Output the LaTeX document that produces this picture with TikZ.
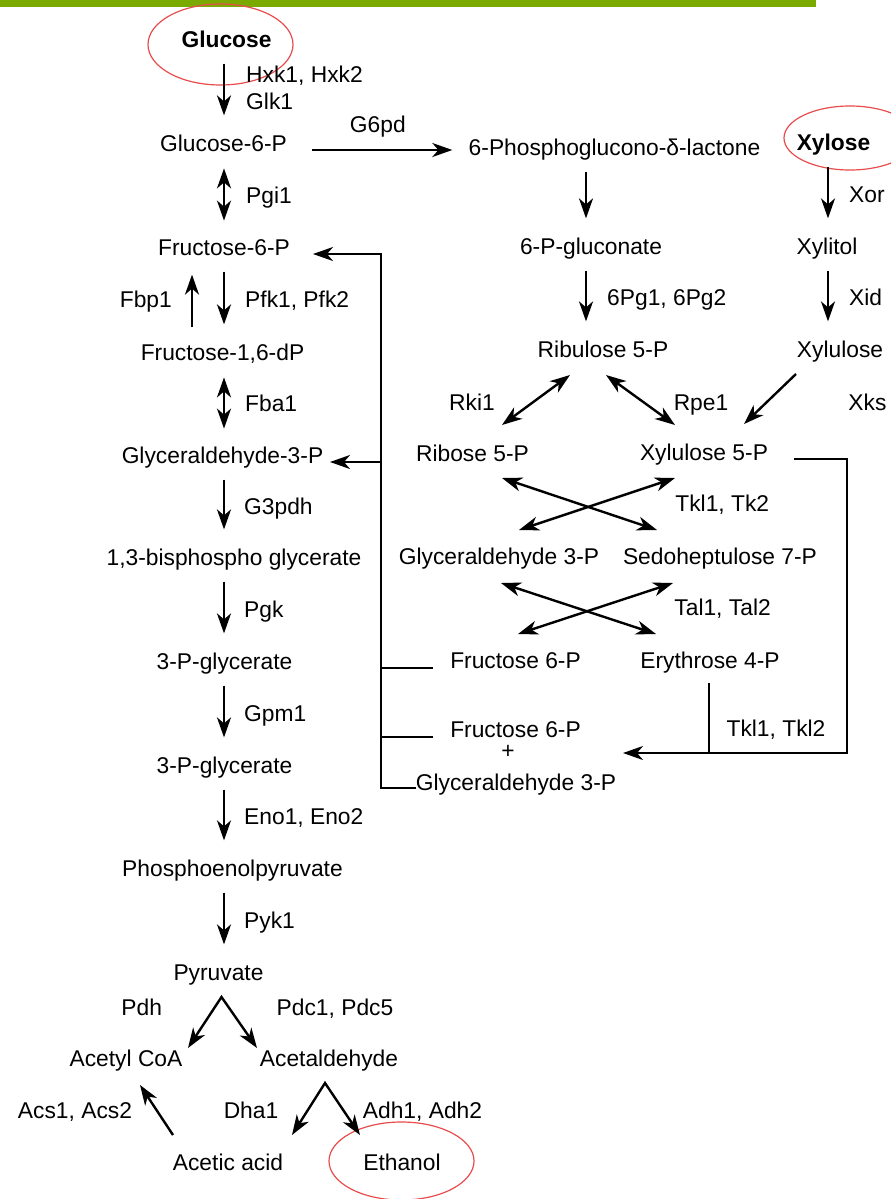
\documentclass[tikz,border=0pt]{standalone}
\usepackage{fontspec}
\setmainfont{Liberation Sans}
\usetikzlibrary{arrows.meta}
\definecolor{barGreen}{RGB}{122,170,0}
\definecolor{ringRed}{RGB}{232,76,76}
\tikzset{
  >={Stealth[length=10pt,width=7pt,inset=3pt]},
  met/.style={font=\fontsize{11.4}{13}\selectfont, inner sep=0pt, text height=8.2pt, text depth=0pt},
  enz/.style={met},
  conv/.style={->, line width=1.2pt, shorten <=8pt, shorten >=9.5pt},
  rev/.style={<->, line width=1.2pt, shorten <=8.4pt, shorten >=8.9pt},
  diag/.style={->, line width=1.2pt},
  diagb/.style={<->, line width=1.2pt},
  link/.style={line width=0.9pt},
  linkarr/.style={->, line width=0.9pt},
  ring/.style={draw=ringRed, line width=0.6pt}
}

\begin{document}
\begin{tikzpicture}[x=0.5pt,y=-0.5pt]
\useasboundingbox (0,0) rectangle (891,1199);
\clip (0,0) rectangle (891,1199);
\fill[barGreen] (0,0) rectangle (816,7);

% columns of the straight arrows
\coordinate (colA) at (224,0);
\coordinate (colB) at (586,0);
\coordinate (colC) at (828,0);
\coordinate (fbpx) at (192,0);

% glycolysis
\node[met] (glc) at (226.5,39) {\textbf{Glucose}};
\node[met] (g6p) at (223.5,143) {Glucose-6-P};
\node[met] (f6p) at (224,247) {Fructose-6-P};
\node[met] (fbp) at (222.5,352) {Fructose-1,6-dP};
\node[met] (gap) at (222.5,455) {Glyceraldehyde-3-P};
\node[met] (bpg) at (234,557) {1,3-bisphospho glycerate};
\node[met] (pga) at (224.5,661) {3-P-glycerate};
\node[met] (pgb) at (224.5,765) {3-P-glycerate};
\node[met] (pep) at (232.5,868) {Phosphoenolpyruvate};
\node[met] (pyr) at (218.5,972) {Pyruvate};
\node[met] (acoa) at (126,1058) {Acetyl CoA};
\node[met] (acal) at (329,1058) {Acetaldehyde};
\node[met] (acet) at (228,1162) {Acetic acid};
\node[met] (etoh) at (402,1162) {Ethanol};

% pentose phosphate and xylose
\node[met] (pgl) at (614.5,147) {6-Phosphoglucono-δ-lactone};
\node[met] (pgn) at (591,246) {6-P-gluconate};
\node[met] (ru5p) at (603,349) {Ribulose 5-P};
\node[met] (xyl) at (833.5,142) {\textbf{Xylose}};
\node[met] (xol) at (827,246) {Xylitol};
\node[met] (xlu) at (840,349) {Xylulose};
\node[met] (r5p) at (472.5,453) {Ribose 5-P};
\node[met] (x5p) at (704,452) {Xylulose 5-P};
\node[met] (ga3) at (499,556) {Glyceraldehyde 3-P};
\node[met] (s7p) at (720,556) {Sedoheptulose 7-P};
\node[met] (f6a) at (515.5,660) {Fructose 6-P};
\node[met] (e4p) at (710,660) {Erythrose 4-P};
\node[met] (f6b) at (515.5,729) {Fructose 6-P};
\node[met] (plus) at (508,750) {+};
\node[met] (ga3b) at (516,782) {Glyceraldehyde 3-P};

% red rings
\draw[ring] ([shift={(-6,5.5)}]glc.center) ellipse [x radius=36.25pt, y radius=20.25pt];
\draw[ring] ([shift={(16.5,-4)}]xyl.center) ellipse [x radius=33pt, y radius=16pt];
\draw[ring] ([shift={(-0.5,-1)}]etoh.center) ellipse [x radius=36.25pt, y radius=19.5pt];

% glycolysis arrows
\draw[conv] (glc.south -| colA) -- (g6p.north -| colA)
  node[enz,midway,right=10.5pt,yshift=8.25pt] (l-hxk) {Hxk1, Hxk2}
  node[enz,midway,right=10.5pt,yshift=-5.25pt] (l-glk) {Glk1};
\draw[rev] (g6p.south -| colA) -- (f6p.north -| colA) node[enz,midway,right=10.5pt] (l-pgi) {Pgi1};
\draw[conv] (f6p.south -| colA) -- (fbp.north -| colA) node[enz,midway,right=10pt] (l-pfk) {Pfk1, Pfk2};
\draw[conv] (fbp.north -| fbpx) -- (f6p.south -| fbpx) node[enz,midway,left=9.5pt] (l-fbp) {Fbp1};
\draw[rev] (fbp.south -| colA) -- (gap.north -| colA) node[enz,midway,right=10pt] (l-fba) {Fba1};
\draw[conv] (gap.south -| colA) -- (bpg.north -| colA) node[enz,midway,right=9.5pt] (l-g3p) {G3pdh};
\draw[conv] (bpg.south -| colA) -- (pga.north -| colA) node[enz,midway,right=9.5pt] (l-pgk) {Pgk};
\draw[conv] (pga.south -| colA) -- (pgb.north -| colA) node[enz,midway,right=9.5pt] (l-gpm) {Gpm1};
\draw[conv] (pgb.south -| colA) -- (pep.north -| colA) node[enz,midway,right=9.5pt] (l-eno) {Eno1, Eno2};
\draw[conv] (pep.south -| colA) -- (pyr.north -| colA) node[enz,midway,right=9.5pt] (l-pyk) {Pyk1};

% pyruvate branches
\draw[diagb] ([shift={(62,-10)}]acoa.center) -- ([shift={(3,25)}]pyr.center) -- ([shift={(-72,-10)}]acal.center);
\draw[diagb] ([shift={(64,-27)}]acet.center) -- ([shift={(-4,25)}]acal.center) -- ([shift={(-42,-27)}]etoh.center);
\draw[diag] ([shift={(-55,-27)}]acet.center) -- ([shift={(14,27)}]acoa.center);
\node[enz] (l-pdh) at (141.7,1007) {Pdh};
\node[enz] (l-pdc) at (335,1007) {Pdc1, Pdc5};
\node[enz] (l-acs) at (75,1110) {Acs1, Acs2};
\node[enz] (l-dha) at (251,1110) {Dha1};
\node[enz] (l-adh) at (422.5,1110) {Adh1, Adh2};

% oxidative branch
\coordinate (g6pout) at ([yshift=-3.5pt]g6p.east);
\draw[diag, shorten <=12.5pt, shorten >=8pt] (g6pout) -- (g6pout -| pgl.west)
  node[enz,midway,above=8pt] (l-g6pd) {G6pd};
\draw[conv] (pgl.south -| colB) -- (pgn.north -| colB);
\draw[conv] (pgn.south -| colB) -- (ru5p.north -| colB) node[enz,midway,right=10pt] (l-6pg) {6Pg1, 6Pg2};

% xylose
\draw[conv] (xyl.south -| colC) -- (xol.north -| colC) node[enz,midway,right=10pt] (l-xor) {Xor};
\draw[conv] (xol.south -| colC) -- (xlu.north -| colC) node[enz,midway,right=10pt] (l-xid) {Xid};
\draw[diag] ([shift={(-44,25)}]xlu.center) -- ([shift={(40,-28)}]x5p.center);
\node[enz, anchor=west] (l-xks) at (848,402) {Xks};

% non-oxidative branch
\draw[diagb] ([shift={(-33,26)}]ru5p.center) -- ([shift={(29.5,-28)}]r5p.center);
\draw[diagb] ([shift={(3,26)}]ru5p.center) -- ([shift={(-29,-27)}]x5p.center);
\node[enz] (l-rki) at (472,402) {Rki1};
\node[enz] (l-rpe) at (701,402) {Rpe1};
\draw[diagb] ([shift={(29.5,25)}]r5p.center) -- ([shift={(-63,-26)}]s7p.center);
\draw[diagb] ([shift={(-29,26)}]x5p.center) -- ([shift={(20,-26)}]ga3.center);
\node[enz, anchor=west] (l-tk) at (675,503) {Tkl1, Tk2};
\draw[diagb] ([shift={(2,27)}]ga3.center) -- ([shift={(-54,-26)}]e4p.center);
\draw[diagb] ([shift={(-47,27)}]s7p.center) -- ([shift={(2.5,-26)}]f6a.center);
\node[enz, anchor=west] (l-tal) at (674,607) {Tal1, Tal2};
\node[enz] (l-tkl) at (776,728) {Tkl1, Tkl2};

% return lines
\draw[linkarr] ([shift={(-100,6)}]ga3b.center) -| ([shift={(157,7)}]f6p.center) -- ([shift={(89,7)}]f6p.center);
\draw[linkarr] ([shift={(158.5,7)}]gap.center) -- ([shift={(107.5,7)}]gap.center);
\draw[link] ([shift={(-82.5,8)}]f6a.center) -- ([shift={(-134.5,8)}]f6a.center);
\draw[link] ([shift={(-82.5,8)}]f6b.center) -- ([shift={(-134.5,8)}]f6b.center);
\draw[linkarr] ([shift={(90,7)}]x5p.center) -| ([shift={(339,3)}]plus.center) -- ([shift={(115,3)}]plus.center);
\draw[link] ([shift={(-1,23)}]e4p.center) -- ([shift={(-1,93)}]e4p.center);
\end{tikzpicture}
\end{document}
